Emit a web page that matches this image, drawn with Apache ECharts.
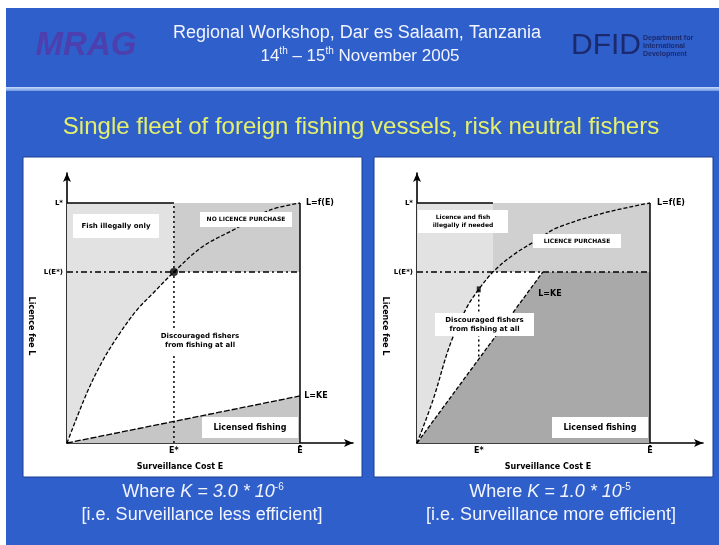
<!DOCTYPE html>
<html>
<head>
<meta charset="utf-8">
<script src="https://cdn.jsdelivr.net/npm/echarts@6/dist/echarts.min.js"></script>
<style>
html,body{margin:0;padding:0;background:#fff;}
#chart{width:719px;height:545px;}
</style>
</head>
<body>
<div id="chart"></div>
<script>
// ---- Panel A: K = 3.0e-6 (surveillance less efficient) ----
// licence fee ceiling L(E) against surveillance cost E, both scaled to 0..1
const curveA = [[0,0],[0.086,0.21],[0.155,0.346],[0.227,0.458],[0.30,0.554],[0.37,0.625],[0.459,0.7125],[0.58,0.817],[0.73,0.896],[0.87,0.97],[1,1]];
const kLineA = [[0,0],[1,0.196]];
const eStarA = 0.459;
const lStarA = 0.7125;

// ---- Panel B: K = 1.0e-5 (surveillance more efficient) ----
const curveB = [[0,0],[0.069,0.18],[0.142,0.41],[0.215,0.567],[0.265,0.64],[0.326,0.7125],[0.412,0.783],[0.515,0.846],[0.60,0.896],[0.80,0.958],[1,1]];
const kLineB = [[0,0],[0.54,0.7125]];
const eStarB = 0.265;
const lStarB = 0.7125;
const markB = [0.265,0.64];

// tick labels
const yTickValues = [lStarA, 1];
const yTickLabels = ['L(E*)', 'L*'];
const xTickValuesA = [eStarA, 1];
const xTickValuesB = [eStarB, 1];
const xTickLabels = ['E*', 'Ē'];

const X_MAX = 1.2275, Y_MAX = 1.125;
const INK = '#000';
const LABEL_FONT = '"DejaVu Sans"';

function tickFormatter(values, labels) {
  return v => {
    let best = 0;
    values.forEach((t, i) => { if (Math.abs(t - v) < Math.abs(values[best] - v)) best = i; });
    return labels[best];
  };
}

function area(g, pts, color) {
  return {
    type: 'custom', xAxisIndex: g, yAxisIndex: g, silent: true, z: 1,
    data: [pts[0]],
    renderItem: (params, api) => ({
      type: 'polygon',
      shape: { points: pts.map(p => api.coord(p)) },
      style: { fill: color }
    })
  };
}

function path(g, pts, o) {
  o = o || {};
  return {
    type: 'line', xAxisIndex: g, yAxisIndex: g, data: pts, silent: true,
    showSymbol: false, smooth: o.smooth || false, z: o.z || 3,
    lineStyle: { color: INK, width: o.w || 1.3, type: o.dash || 'solid' }
  };
}

function xAxis(g, ticks) {
  return {
    type: 'value', gridIndex: g, min: 0, max: X_MAX,
    splitLine: { show: false }, axisTick: { show: false },
    axisLine: { show: true, onZero: false, symbol: ['none', 'arrow'], symbolSize: [6, 9], lineStyle: { color: INK, width: 1.6 } },
    axisLabel: { customValues: ticks, formatter: tickFormatter(ticks, xTickLabels), color: INK, fontSize: 8, fontWeight: 'bold', margin: 4, fontFamily: 'DejaVu Sans' }
  };
}

function yAxis(g) {
  return {
    type: 'value', gridIndex: g, min: 0, max: Y_MAX,
    splitLine: { show: false }, axisTick: { show: false },
    axisLine: { show: true, onZero: false, symbol: ['none', 'arrow'], symbolSize: [6, 9], lineStyle: { color: INK, width: 1.6 } },
    axisLabel: { customValues: yTickValues, formatter: tickFormatter(yTickValues, yTickLabels), color: INK, fontSize: 7, fontWeight: 'bold', margin: 4, fontFamily: 'DejaVu Sans' }
  };
}

// light region: left of the curve up to the point where it reaches L*
function leftOfCurve(curve, lStar) {
  const idx = curve.findIndex(p => p[1] >= lStar);
  const part = curve.slice(0, idx + 1);
  return part.concat([[curve[idx][0], 1], [0, 1]]);
}
function upperBlock(curve, lStar) {
  const idx = curve.findIndex(p => p[1] >= lStar);
  const e = curve[idx][0];
  return [[e, lStar], [1, lStar], [1, 1], [e, 1]];
}
const crossA = curveA.find(p => p[1] >= lStarA);
const crossB = curveB.find(p => p[1] >= lStarB);

const series = [
  // Panel A shading
  area(0, leftOfCurve(curveA, lStarA), '#e2e2e2'),
  area(0, upperBlock(curveA, lStarA), '#cdcdcd'),
  area(0, [kLineA[0], kLineA[1], [kLineA[1][0], 0]], '#c6c6c6'),
  // Panel A lines
  path(0, curveA, { smooth: 0.35, dash: [4, 2] }),
  path(0, kLineA, { dash: [6, 2] }),
  path(0, [[0, lStarA], [1, lStarA]], { dash: [6, 3, 2, 3], w: 1.5 }),
  path(0, [[eStarA, 0], [eStarA, 1]], { dash: [2, 3], w: 1.5 }),
  path(0, [[1, 0], [1, 1]], { w: 1.5 }),
  path(0, [[0, 1], [crossA[0], 1]], { w: 1.5 }),
  {
    type: 'scatter', xAxisIndex: 0, yAxisIndex: 0, silent: true, z: 4,
    data: [crossA], symbol: 'circle', symbolSize: 8, itemStyle: { color: INK }
  },
  // Panel B shading
  area(1, leftOfCurve(curveB, lStarB), '#e2e2e2'),
  area(1, upperBlock(curveB, lStarB), '#d0d0d0'),
  area(1, [kLineB[0], kLineB[1], [1, lStarB], [1, 0]], '#a9a9a9'),
  // Panel B lines
  path(1, curveB, { smooth: 0.35, dash: [4, 2] }),
  path(1, kLineB, { dash: [4, 2] }),
  path(1, [[0, lStarB], [1, lStarB]], { dash: [6, 3, 2, 3], w: 1.5 }),
  path(1, [[eStarB, markB[1]], [eStarB, eStarB * kLineB[1][1] / kLineB[1][0]]], { dash: [2, 3], w: 1.5 }),
  path(1, [[1, 0], [1, 1]], { w: 1.5 }),
  path(1, [[0, 1], [crossB[0], 1]], { w: 1.5 }),
  {
    type: 'scatter', xAxisIndex: 1, yAxisIndex: 1, silent: true, z: 4,
    data: [markB], symbol: 'rect', symbolSize: [4, 6], itemStyle: { color: INK }
  }
];

// white label boxes with bold captions inside the panels
function box(x, y, w, h, lines, fs) {
  fs = fs || 7;
  return [
    { type: 'rect', z: 50, shape: { x: x, y: y, width: w, height: h }, style: { fill: '#fff' } },
    { type: 'text', z: 51, x: x + w / 2, y: y + h / 2,
      style: { text: lines, align: 'center', verticalAlign: 'middle', fill: INK,
               font: 'bold ' + fs + 'px ' + LABEL_FONT, lineHeight: fs + 2 } }
  ];
}
function tiny(x, y, text, rot) {
  return { type: 'text', x: x, y: y, rotation: rot || 0, z: 51,
    style: { text: text, align: 'center', verticalAlign: 'middle', fill: INK, font: 'bold 8px ' + LABEL_FONT } };
}

const white = '#f2f4ff';
const sup = { fill: white, font: '10px "Liberation Sans"', verticalAlign: 'top', padding: [0, 0, 9, 0] };
const graphic = [
  // slide
  { type: 'rect', z: -10, shape: { x: 6, y: 8, width: 713, height: 537 }, style: { fill: '#2f5fca' } },
  { type: 'rect', z: -9, shape: { x: 6, y: 87, width: 713, height: 4 },
    style: { fill: new echarts.graphic.LinearGradient(0, 0, 0, 1, [{ offset: 0, color: '#c8dcff' }, { offset: 1, color: '#6f97e0' }]) } },
  { type: 'text', z: -8, x: 86, y: 46, style: { text: 'MRAG', align: 'center', verticalAlign: 'middle', fill: '#4e3fae', font: 'italic bold 33px "Liberation Sans"' } },
  { type: 'text', z: -8, x: 357, y: 33, style: { text: 'Regional Workshop, Dar es Salaam, Tanzania', align: 'center', verticalAlign: 'middle', fill: white, font: '18px "Liberation Sans"' } },
  { type: 'text', z: -8, x: 360, y: 56, style: {
      text: '{n|14}{s|th}{n| – 15}{s|th}{n| November 2005}', align: 'center', verticalAlign: 'middle',
      rich: { n: { fill: white, font: '17px "Liberation Sans"' }, s: sup } } },
  { type: 'text', z: -8, x: 606, y: 46, style: { text: 'DFID', align: 'center', verticalAlign: 'middle', fill: '#1b2a6e', font: '30px "Liberation Sans"' } },
  { type: 'text', z: -8, x: 643, y: 46, style: { text: 'Department for\nInternational\nDevelopment', align: 'left', verticalAlign: 'middle', fill: '#1b2a6e', font: 'bold 7px "Liberation Sans"', lineHeight: 8 } },
  { type: 'text', z: -8, x: 361, y: 127, style: { text: 'Single fleet of foreign fishing vessels, risk neutral fishers', align: 'center', verticalAlign: 'middle', fill: '#e4f06c', font: '24px "Liberation Sans"' } },
  // panels
  { type: 'rect', z: -7, shape: { x: 23, y: 157, width: 339, height: 320 }, style: { fill: '#fff', stroke: '#1c3d94', lineWidth: 1 } },
  { type: 'rect', z: -7, shape: { x: 374, y: 157, width: 339, height: 320 }, style: { fill: '#fff', stroke: '#1c3d94', lineWidth: 1 } },
  // captions
  { type: 'text', z: -6, x: 203, y: 492, style: {
      text: '{n|Where }{i|K = 3.0 * 10}{s|-6}', align: 'center', verticalAlign: 'middle',
      rich: { n: { fill: white, font: '18px "Liberation Sans"' }, i: { fill: white, font: 'italic 18px "Liberation Sans"' }, s: sup } } },
  { type: 'text', z: -6, x: 202, y: 515, style: { text: '[i.e. Surveillance less efficient]', align: 'center', verticalAlign: 'middle', fill: white, font: '18px "Liberation Sans"' } },
  { type: 'text', z: -6, x: 550, y: 492, style: {
      text: '{n|Where }{i|K = 1.0 * 10}{s|-5}', align: 'center', verticalAlign: 'middle',
      rich: { n: { fill: white, font: '18px "Liberation Sans"' }, i: { fill: white, font: 'italic 18px "Liberation Sans"' }, s: sup } } },
  { type: 'text', z: -6, x: 551, y: 515, style: { text: '[i.e. Surveillance more efficient]', align: 'center', verticalAlign: 'middle', fill: white, font: '18px "Liberation Sans"' } },

  // panel A annotations
  ...box(73, 214, 86, 24, 'Fish illegally only', 7),
  ...box(200, 212, 92, 15, 'NO LICENCE PURCHASE', 6),
  ...box(152, 329, 96, 24, 'Discouraged fishers\nfrom fishing at all', 7),
  ...box(202, 417, 96, 21, 'Licensed fishing', 8),
  tiny(320, 203, 'L=f(E)'), tiny(316, 396, 'L=KE'),
  tiny(31, 326, 'Licence fee L', -Math.PI / 2),
  tiny(180, 467, 'Surveillance Cost E'),

  // panel B annotations
  ...box(418, 210, 90, 23, 'Licence and fish\nillegally if needed', 6),
  ...box(533, 234, 88, 14, 'LICENCE PURCHASE', 6),
  ...box(435, 313, 99, 23, 'Discouraged fishers\nfrom fishing at all', 7),
  ...box(552, 417, 96, 21, 'Licensed fishing', 8),
  tiny(671, 203, 'L=f(E)'), tiny(550, 294, 'L=KE'),
  tiny(385, 326, 'Licence fee L', -Math.PI / 2),
  tiny(548, 467, 'Surveillance Cost E')
];

const chart = echarts.init(document.getElementById('chart'), null, { renderer: 'canvas' });
chart.setOption({
  animation: false,
  backgroundColor: '#ffffff',
  grid: [
    { left: 67, top: 173, width: 286, height: 270 },
    { left: 417, top: 173, width: 286, height: 270 }
  ],
  xAxis: [xAxis(0, xTickValuesA), xAxis(1, xTickValuesB)],
  yAxis: [yAxis(0), yAxis(1)],
  series: series,
  graphic: graphic
});
</script>
</body>
</html>
